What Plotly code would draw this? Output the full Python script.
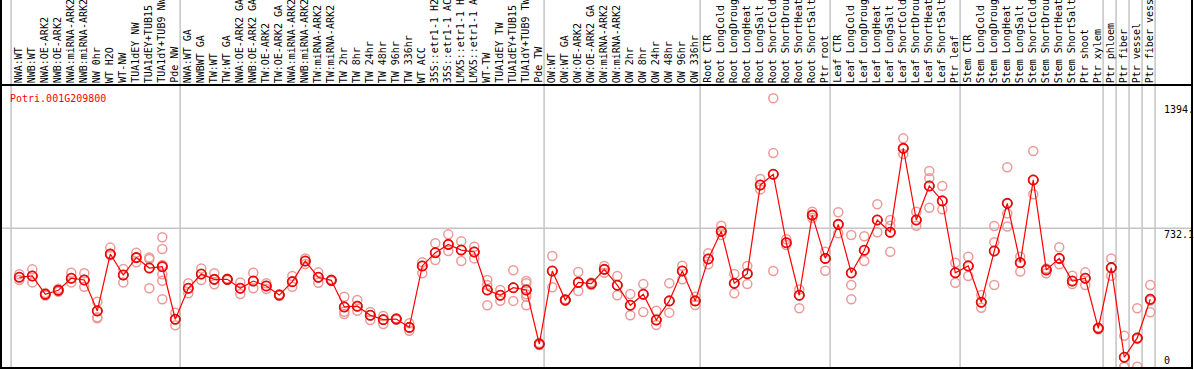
import plotly.graph_objects as go

gene = "Potri.001G209800"

categories = [
    "NWA:WT", "NWB:WT", "NWA:OE-ARK2", "NWB:OE-ARK2", "NWA:miRNA-ARK2", "NWB:miRNA-ARK2",
    "NW 0hr", "WT H2O", "WT-NW", "TUA1dEY NW", "TUA1dEY+TUB15", "TUA1dY+TUB9 NW", "Pde NW",
    "NWA:WT GA", "NWBWT GA", "TW:WT", "TW:WT GA", "NWA:OE-ARK2 GA", "NWB:OE-ARK2 GA",
    "TW:OE-ARK2", "TW:OE-ARK2 GA", "NWA:miRNA-ARK2", "NWB:miRNA-ARK2", "TW:miRNA-ARK2",
    "TW:miRNA-ARK2", "TW 2hr", "TW 8hr", "TW 24hr", "TW 48hr", "TW 96hr", "TW 336hr",
    "WT ACC", "35S::etr1-1 H2O", "35S::etr1-1 ACC", "LMX5::etr1-1 H2O", "LMX5::etr1-1 ACC",
    "WT-TW", "TUA1dEY TW", "TUA1dEY+TUB15", "TUA1dY+TUB9 TW", "Pde TW",
    "OW:WT", "OW:WT GA", "OW:OE-ARK2", "OW:OE-ARK2 GA", "OW:miRNA-ARK2", "OW:miRNA-ARK2",
    "OW 2hr", "OW 8hr", "OW 24hr", "OW 48hr", "OW 96hr", "OW 336hr",
    "Root CTR", "Root LongCold", "Root LongDrought", "Root LongHeat", "Root LongSalt",
    "Root ShortCold", "Root ShortDrought", "Root ShortHeat", "Root ShortSalt", "Ptr root",
    "Leaf CTR", "Leaf LongCold", "Leaf LongDrought", "Leaf LongHeat", "Leaf LongSalt",
    "Leaf ShortCold", "Leaf ShortDrought", "Leaf ShortHeat", "Leaf ShortSalt", "Ptr leaf",
    "Stem CTR", "Stem LongCold", "Stem LongDrought", "Stem LongHeat", "Stem LongSalt",
    "Stem ShortCold", "Stem ShortDrought", "Stem ShortHeat", "Stem ShortSalt", "Ptr shoot",
    "Ptr xylem", "Ptr phloem", "Ptr fiber", "Ptr vessel", "Ptr fiber vessel",
]

group_sizes = [13, 28, 12, 10, 10, 11, 1, 1, 1, 1]

means = [
    473, 480, 383, 404, 468, 459, 295, 596, 485, 577, 522, 529, 251,
    415, 490, 462, 462, 415, 453, 427, 379, 450, 559, 473, 457, 316, 320, 272, 249, 252,
    208, 533, 603, 647, 617, 607, 406, 378, 418, 406, 120,
    506, 353, 446, 439, 515, 431, 325, 383, 247, 348, 506, 348,
    570, 716, 441, 492, 961, 1018, 656, 378, 802, 573,
    753, 496, 616, 776, 711, 1155, 776, 956, 877, 497,
    533, 341, 612, 864, 550, 988, 512, 573, 453, 468, 203,
    524, 50, 152, 357,
]

replicates = [
    [489, 459], [515, 446], [390, 376], [396, 412], [497, 446], [494, 423],
    [344, 261, 256], [630, 589], [517, 446], [603, 552], [577, 570, 415],
    [685, 623, 538, 489, 455, 357], [286, 219],
    [441, 388], [520, 459], [494, 436], [458, 466], [446, 385], [497, 415], [441, 411],
    [375, 383], [480, 423], [573, 543], [499, 444], [453, 461], [370, 291, 279],
    [353, 296], [289, 247], [268, 226], [248, 256], [230, 190], [552, 494],
    [653, 564], [700, 612], [663, 559], [635, 573], [459, 432, 325], [406, 349],
    [510, 348], [453, 441, 383, 370, 325], [115, 125],
    [586, 420], [349, 357], [501, 400], [432, 446], [533, 497], [480, 378],
    [385, 272], [437, 289], [296, 221], [441, 286], [534, 462], [370, 326],
    [600, 542], [746, 697], [490, 388], [533, 437], [993, 938], [1420, 1130, 506],
    [674, 644], [409, 309], [820, 787], [608, 508],
    [817, 706], [697, 432, 357], [690, 559], [859, 711], [776, 746, 608],
    [1208, 1125], [820, 746], [1035, 997, 841], [956, 833], [550, 444],
    [582, 480], [379, 312], [744, 658, 432], [1055, 811, 741], [582, 503],
    [1141, 912], [520, 494], [632, 542], [481, 437], [499, 432], [198, 208],
    [573, 481], [164, 0, 0], [309, 147, 0], [432, 288, 350],
]

axis_label_text = ["1394.", "732.1", "0"]
axis_label_values = [1394, 732.1, 0]

FONT = "DejaVu Sans Mono"
GRAY = "#c4c4c4"

x_idx = list(range(len(categories)))
rep_x, rep_y = [], []
for i, reps in enumerate(replicates):
    for v in reps:
        rep_x.append(i)
        rep_y.append(v)

fig = go.Figure()
fig.add_trace(go.Scatter(
    x=rep_x, y=rep_y, mode="markers",
    marker=dict(symbol="circle-open", size=9, color="#ee9898", line=dict(width=1.5)),
    hoverinfo="skip", showlegend=False))
fig.add_trace(go.Scatter(
    x=x_idx, y=means, mode="lines",
    line=dict(color="#ff0000", width=1.2), showlegend=False, hoverinfo="skip"))
fig.add_trace(go.Scatter(
    x=x_idx, y=means, mode="markers",
    marker=dict(symbol="circle-open", size=10, color="#500000", line=dict(width=0.8)),
    showlegend=False, hoverinfo="skip"))
fig.add_trace(go.Scatter(
    x=x_idx, y=means, mode="markers", text=categories,
    marker=dict(symbol="circle-open", size=9, color="#ff0000", line=dict(width=1.6)),
    showlegend=False, hovertemplate="%{text}: %{y}<extra></extra>"))

shapes = []
TOPP = 1 + 85 / 283
b = 0
bounds = [0]
for g in group_sizes:
    b += g
    bounds.append(b)
for bd in bounds:
    shapes.append(dict(type="line", xref="x", yref="paper", x0=bd - 0.63, x1=bd - 0.63,
                       y0=0, y1=TOPP, line=dict(color=GRAY, width=1.5), layer="below"))
shapes.append(dict(type="line", xref="paper", yref="y", x0=0, x1=1,
                   y0=axis_label_values[1], y1=axis_label_values[1],
                   line=dict(color=GRAY, width=1.5), layer="below"))
shapes.append(dict(type="rect", xref="paper", yref="paper", x0=0, x1=1, y0=0, y1=1,
                   line=dict(color="black", width=2)))
shapes.append(dict(type="line", xref="paper", yref="paper", x0=0, x1=0, y0=1, y1=TOPP,
                   line=dict(color="black", width=2)))
shapes.append(dict(type="line", xref="paper", yref="paper", x0=1, x1=1, y0=1, y1=TOPP,
                   line=dict(color="black", width=2)))

annotations = []
for i, c in enumerate(categories):
    annotations.append(dict(x=i, y=1, xref="x", yref="paper", text=c, textangle=-90,
                            showarrow=False, xanchor="center", yanchor="bottom",
                            xshift=-1, yshift=1, borderpad=0,
                            font=dict(family=FONT, size=10, color="black")))
annotations.append(dict(x=0.007, y=0.975, xref="paper", yref="paper", text=gene,
                        showarrow=False, xanchor="left", yanchor="top", borderpad=0,
                        font=dict(family=FONT, size=10, color="#ff0000")))
for t, v in zip(axis_label_text, axis_label_values):
    annotations.append(dict(x=0.9757, y=v, xref="paper", yref="y", text=t,
                            showarrow=False, xanchor="left",
                            yanchor="bottom" if v == 0 else "top", borderpad=0,
                            font=dict(family=FONT, size=10, color="black")))

fig.update_layout(
    width=1194, height=370,
    margin=dict(l=1, r=2, t=85, b=2, pad=0),
    paper_bgcolor="white", plot_bgcolor="white",
    xaxis=dict(range=[-1.408, 90.21], visible=False, fixedrange=True),
    yaxis=dict(range=[-6.9, 1490.2], visible=False, fixedrange=True),
    shapes=shapes, annotations=annotations,
)

fig.write_html("out.html", config={"displayModeBar": False},
               post_script="document.body.style.margin='0px';document.body.style.overflow='hidden';")
